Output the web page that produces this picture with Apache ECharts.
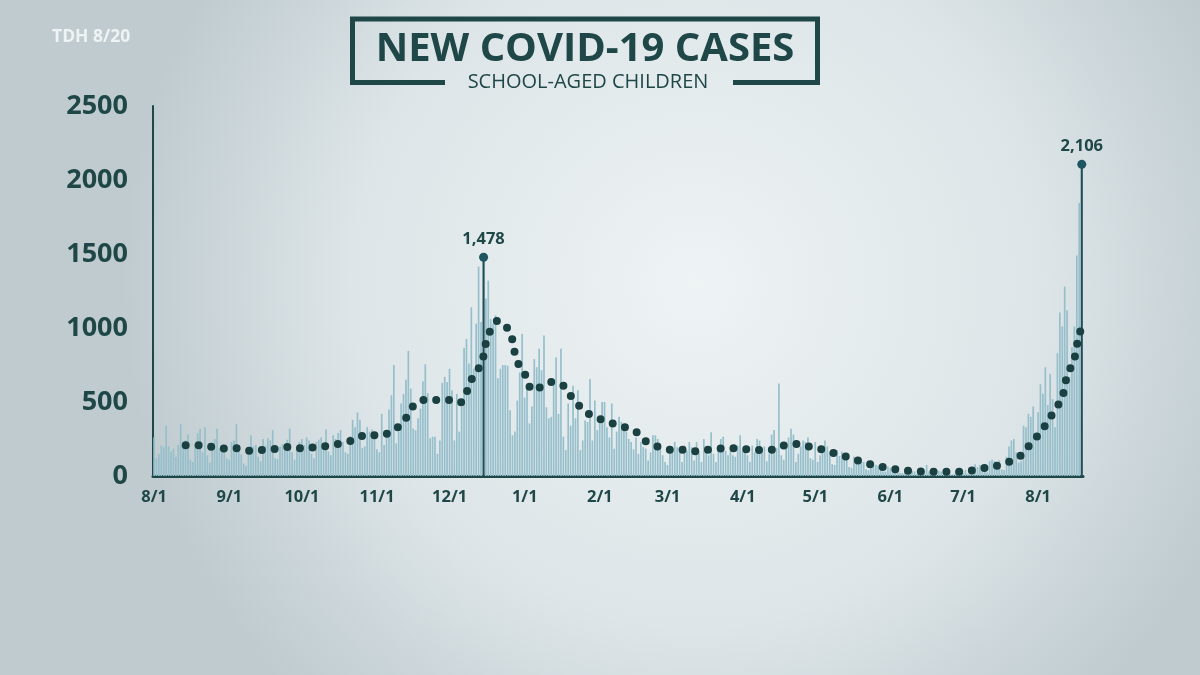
<!DOCTYPE html>
<html>
<head>
<meta charset="utf-8">
<script src="https://cdn.jsdelivr.net/npm/echarts@6.0.0/dist/echarts.min.js"></script>
<style>
  html, body { margin: 0; padding: 0; }
  #chart { width: 1200px; height: 675px; }
</style>
</head>
<body>
<div id="chart"></div>
<script>
// ---- Data ----
const startDate = '2020-08-01';
const titleText = 'NEW COVID-19 CASES';
const subtitleText = 'SCHOOL-AGED CHILDREN';
const sourceText = 'TDH 8/20';
const yTicks = [0, 500, 1000, 1500, 2000, 2500];

// Daily new cases, 8/1/2020 .. 8/19/2021
const aug2020 = [260,120,150,205,195,340,200,165,185,130,210,350,190,240,280,110,95,215,290,320,160,330,140,90,200,250,320,190,210,170,120];
const sep2020 = [110,230,240,350,190,145,85,70,150,275,200,210,130,100,250,205,255,240,310,120,115,200,215,205,245,320,160,110,190,230];
const oct2020 = [250,210,260,240,150,120,230,245,260,200,315,165,140,275,250,290,310,230,160,150,270,380,330,430,380,190,200,330,300,315,250];
const nov2020 = [180,160,420,210,300,450,545,750,220,300,490,555,650,845,590,320,310,390,455,640,755,560,255,265,265,150,240,630,670,635];
const dec2020 = [725,580,240,555,300,470,865,925,760,1140,725,1030,1415,1040,1478,1200,1320,1060,1030,1085,660,725,750,750,745,445,275,300,510,700,960];
const jan2021 = [530,600,355,470,790,735,860,715,950,465,390,400,620,800,420,860,265,175,490,340,610,390,580,175,240,375,365,655,240,510,310];
const feb2021 = [400,500,500,330,260,490,185,300,400,365,340,300,250,230,180,260,150,230,195,185,105,160,275,275,250,180,140,95];
const mar2021 = [75,170,160,230,195,160,95,205,170,230,195,105,230,160,95,250,180,140,295,150,95,205,250,265,170,140,170,140,130,205,275];
const apr2021 = [170,185,140,95,205,160,250,240,180,200,100,150,280,310,190,625,140,110,200,260,320,280,95,150,200,240,230,260,120,110];
const may2021 = [230,95,140,185,240,200,160,80,75,175,135,165,150,140,60,55,130,120,100,110,95,45,40,90,85,75,70,60,30,30,65];
const jun2021 = [55,50,45,40,20,20,45,40,38,35,30,15,15,40,35,75,30,25,12,10,35,30,30,28,25,10,12,35,40,38];
const jul2021 = [20,40,15,12,50,80,60,75,65,30,25,100,110,100,90,105,45,40,130,200,240,250,160,90,100,340,330,420,400,470,280];
const aug2021 = [430,620,555,735,480,690,520,330,830,1105,1010,1280,1120,670,870,1010,1490,1845,2106];

// 7-day average (dotted line), sampled: day index from 8/1/2020 and value
const avgDays   = [13,19,24,29,35,40,46,51,57,62,67,72,78,83,88,93,97,102,105,108,113,117,122,126,129,131,134,136,137,139,142,146,148,149,151,154,156,161,164,169,172,176,180,185,189,194,199,203,208,213,219,224,230,235,241,246,252,257,261,267,272,277,282,288,293,298,304,309,315,321,326,332,338,343,349,354,359,362,366,369,372,375,376,378,380,381,382,383];
const avgValues = [208,207,196,185,187,169,178,185,198,182,198,204,224,246,282,272,293,349,419,491,516,514,514,493,568,651,728,813,901,989,1049,995,914,824,736,662,579,613,635,610,541,466,414,380,356,331,297,234,198,178,178,167,180,187,187,178,176,182,211,216,189,176,147,120,90,70,52,38,32,29,29,29,38,54,74,103,153,225,295,372,448,534,622,716,797,885,960,1000];

// Annotated peaks (dates)
const peakDates = ['2020-12-15', '2021-08-19'];

// ---- Build ----
const dailyCases = [].concat(aug2020, sep2020, oct2020, nov2020, dec2020, jan2021, feb2021, mar2021, apr2021, may2021, jun2021, jul2021, aug2021);
const dates = [];
{
  const d0 = new Date(startDate + 'T00:00:00Z');
  for (let i = 0; i < dailyCases.length; i++) {
    const d = new Date(d0.getTime() + i * 86400000);
    dates.push(d.toISOString().slice(0, 10));
  }
}
const peakSeries = dates.map((d, i) => peakDates.includes(d) ? dailyCases[i] : null);
const avgData = avgDays.map((day, i) => [dates[day], avgValues[i]]);
const peakPoints = peakDates.map(d => ({ coord: [d, dailyCases[dates.indexOf(d)]], value: dailyCases[dates.indexOf(d)] }));

const DARK = '#1f4747';
const FONT = '"Open Sans", "Noto Sans", sans-serif';

const chart = echarts.init(document.getElementById('chart'), null, { renderer: 'canvas' });
chart.setOption({
  animation: false,
  backgroundColor: {
    type: 'radial', x: 0.58, y: 0.42, r: 0.85,
    colorStops: [
      { offset: 0, color: '#eef3f4' },
      { offset: 0.6, color: '#dde5e8' },
      { offset: 1, color: '#bfcbcf' }
    ]
  },
  grid: { left: 153, right: 117, top: 106, bottom: 199, containLabel: false },
  xAxis: {
    type: 'category',
    data: dates,
    boundaryGap: true,
    axisLine: { show: true, onZero: true, lineStyle: { color: DARK, width: 3 } },
    axisTick: { show: false },
    splitLine: { show: false },
    axisLabel: {
      interval: (idx, value) => value.slice(8) === '01',
      formatter: (value) => (+value.slice(5, 7)) + '/' + (+value.slice(8)),
      color: DARK, fontFamily: FONT, fontWeight: 'bold', fontSize: 16.5, margin: 13
    }
  },
  yAxis: {
    type: 'value',
    min: yTicks[0], max: yTicks[yTicks.length - 1], interval: yTicks[1] - yTicks[0],
    axisLine: { show: true, lineStyle: { color: DARK, width: 2 } },
    axisTick: { show: false },
    splitLine: { show: false },
    axisLabel: {
      formatter: (v) => String(v),
      color: DARK, fontFamily: FONT, fontWeight: 'bold', fontSize: 27, margin: 25
    }
  },
  series: [
    {
      type: 'bar', name: 'Daily', data: dailyCases, barWidth: 1.7,
      itemStyle: { color: '#96bfcb' }, z: 2, silent: true
    },
    {
      type: 'bar', name: 'Peak', data: peakSeries, barWidth: 2, barGap: '-100%',
      itemStyle: { color: '#1f4c55' }, z: 3, silent: true,
      markPoint: {
        symbol: 'circle', symbolSize: 9,
        itemStyle: { color: '#1f5561' },
        label: {
          show: true, position: 'top', distance: 5,
          formatter: (p) => Number(p.value).toLocaleString('en-US'),
          color: DARK, fontFamily: FONT, fontWeight: 'bold', fontSize: 16.5
        },
        data: peakPoints
      }
    },
    {
      type: 'line', name: '7-day average', data: avgData,
      smooth: 0.35, showSymbol: false, symbol: 'none', z: 4, silent: true,
      lineStyle: { color: '#1b4042', width: 8, type: [0, 12.8], cap: 'round' }
    }
  ],
  graphic: [
    {
      type: 'text', left: 52, top: 28,
      style: { text: sourceText, fill: '#eef3f4', font: 'bold 17.5px ' + FONT }
    },
    {
      type: 'polyline',
      shape: { points: [[445, 82.5], [352.5, 82.5], [352.5, 19], [817.5, 19], [817.5, 82.5], [733, 82.5]] },
      style: { stroke: DARK, lineWidth: 5, fill: null, lineJoin: 'miter' }
    },
    {
      type: 'text', x: 585, y: 50,
      style: { text: titleText, fill: DARK, font: 'bold 40px ' + FONT, textAlign: 'center', textVerticalAlign: 'middle' }
    },
    {
      type: 'text', x: 588, y: 82,
      style: { text: subtitleText, fill: DARK, font: '20px ' + FONT, textAlign: 'center', textVerticalAlign: 'middle' }
    }
  ]
});
</script>
</body>
</html>
